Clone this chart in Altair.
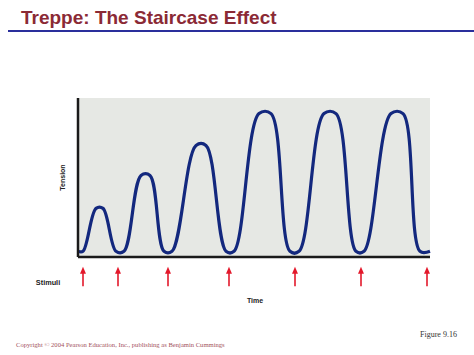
import altair as alt
import pandas as pd

# Control points of the tension trace (time in arbitrary units, tension in % of max)
time = [0, 5, 18, 25, 38, 46, 63, 72, 86, 94, 118, 128, 148, 156, 181, 193,
        212, 221, 246, 258, 278, 286, 313, 325, 342, 352]
tension = [3.6, 3.6, 30.6, 30.6, 3.6, 3.6, 51.3, 51.3, 3.6, 3.6, 70.2, 70.2,
           3.6, 3.6, 90.2, 90.2, 3.6, 3.6, 90.2, 90.2, 3.6, 3.6, 90.2, 90.2,
           3.6, 3.6]
stimuli = [5, 40, 90, 151, 217, 283, 349]

X_MAX = 352
Y_TOP = 100
Y_BOT = -33.3

trace = pd.DataFrame({"time": time, "tension": tension})
stim = pd.DataFrame({"time": stimuli, "s1": [-9.5] * len(stimuli),
                     "s2": [-18.3] * len(stimuli), "h": [-8.3] * len(stimuli)})

xs = alt.Scale(domain=[0, X_MAX], nice=False, zero=False)
ys = alt.Scale(domain=[Y_BOT, Y_TOP], nice=False, zero=False)

bg = alt.Chart(pd.DataFrame({"x": [0], "x2": [X_MAX], "y": [0], "y2": [Y_TOP]})).mark_rect(
    color="#e6e8e4"
).encode(
    x=alt.X("x:Q", scale=xs, axis=None), x2="x2:Q",
    y=alt.Y("y:Q", scale=ys, axis=None), y2="y2:Q",
)

line = alt.Chart(trace).mark_line(
    color="#13287e", strokeWidth=3.2, interpolate="catmull-rom"
).encode(
    x=alt.X("time:Q", scale=xs, axis=None),
    y=alt.Y("tension:Q", scale=ys, axis=None),
)

yaxis = alt.Chart(pd.DataFrame({"x": [0], "y": [0], "y2": [Y_TOP]})).mark_rule(
    color="#1a1a1a", strokeWidth=2.5
).encode(x=alt.X("x:Q", scale=xs, axis=None), y=alt.Y("y:Q", scale=ys, axis=None), y2="y2:Q")

xaxis = alt.Chart(pd.DataFrame({"x": [0], "x2": [X_MAX], "y": [0]})).mark_rule(
    color="#1a1a1a", strokeWidth=2.5
).encode(x=alt.X("x:Q", scale=xs, axis=None), x2="x2:Q", y=alt.Y("y:Q", scale=ys, axis=None))

shaft = alt.Chart(stim).mark_rule(color="#e3182b", strokeWidth=1.6).encode(
    x=alt.X("time:Q", scale=xs, axis=None), y=alt.Y("s1:Q", scale=ys, axis=None), y2="s2:Q"
)
head = alt.Chart(stim).mark_point(
    filled=True, color="#e3182b", opacity=1, size=49, shape="M0,-1L0.85,1L-0.85,1Z"
).encode(
    x=alt.X("time:Q", scale=xs, axis=None), y=alt.Y("h:Q", scale=ys, axis=None)
)


def label(txt, x, y, size=7.2, angle=0, color="#222222", font="Liberation Sans",
          weight="bold", align="center", baseline="middle"):
    return alt.Chart(pd.DataFrame({"t": [txt], "x": [x], "y": [y]})).mark_text(
        font=font, fontSize=size, fontWeight=weight, color=color, angle=angle,
        align=align, baseline=baseline
    ).encode(
        x=alt.X("x:Q", scale=xs, axis=None), y=alt.Y("y:Q", scale=ys, axis=None), text="t:N"
    )


title_lbl = label("Treppe: The Staircase Effect", -57, 146.5, size=19, color="#8b2a35",
                  align="left", baseline="alphabetic")
tension_lbl = label("Tension", -15, 50, size=7, angle=270)
stim_lbl = label("Stimuli", -30, -16.4, size=7.3)
time_lbl = label("Time", 177, -27.7, size=7)
fig_lbl = label("Figure 9.16", 342, -49, size=8, font="Liberation Serif", weight="normal",
                color="#333333", align="left")
copy_lbl = label("Copyright © 2004 Pearson Education, Inc., publishing as Benjamin Cummings",
                 -62, -55.3, size=6.6, font="Liberation Serif", weight="normal",
                 color="#a3525c", align="left")

title_rule = alt.Chart(pd.DataFrame({"x": [-70], "x2": [396], "y": [142.1]})).mark_rule(
    color="#2a2f9c", strokeWidth=2
).encode(x=alt.X("x:Q", scale=xs, axis=None), x2="x2:Q", y=alt.Y("y:Q", scale=ys, axis=None))

chart = alt.layer(
    bg, line, yaxis, xaxis, shaft, head,
    title_lbl, tension_lbl, stim_lbl, time_lbl, fig_lbl, copy_lbl, title_rule
).properties(
    width=352, height=212,
    autosize=alt.AutoSizeParams(type="none"),
    padding={"left": 78, "top": 98, "right": 44, "bottom": 45},
    background="white",
).configure_view(stroke=None)

chart.save("out.html", embed_options={"renderer": "svg", "actions": False})
